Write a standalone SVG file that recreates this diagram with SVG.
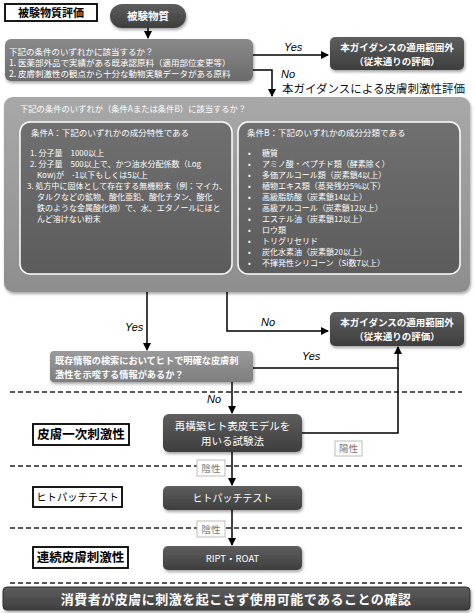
<svg xmlns="http://www.w3.org/2000/svg" width="475" height="613" viewBox="0 0 475 613">
<defs>
<style>
text{font-family:"Noto Sans CJK JP","Noto Sans",sans-serif;}
.w{fill:#fff;}
.wb{fill:#fff;font-weight:bold;}
.lbl{fill:#000;font-weight:bold;font-size:12.5px;}
.yn{font-family:"Liberation Sans",Arial,sans-serif;font-style:italic;font-size:11px;fill:#000;}
.ln{fill:none;stroke:#000;stroke-width:1.5;}
.dash{stroke:#222;stroke-width:1.3;stroke-dasharray:5,3;}
.tag{fill:#fff;stroke:#bbb;stroke-width:1;}
.tagt{fill:#777;font-size:9.5px;}
.lb{fill:#fff;stroke:#000;stroke-width:1.8;}
</style>
<linearGradient id="gDark" x1="0" y1="0" x2="0" y2="1"><stop offset="0" stop-color="#5e5e5e"/><stop offset="1" stop-color="#3e3e3e"/></linearGradient>
<linearGradient id="gMid" x1="0" y1="0" x2="0" y2="1"><stop offset="0" stop-color="#8a8a8a"/><stop offset="1" stop-color="#6a6a6a"/></linearGradient>
<linearGradient id="gBig" x1="0" y1="0" x2="0" y2="1"><stop offset="0" stop-color="#a8a8a8"/><stop offset="1" stop-color="#8e8e8e"/></linearGradient>
<linearGradient id="gIn" x1="0" y1="0" x2="0" y2="1"><stop offset="0" stop-color="#707070"/><stop offset="1" stop-color="#5c5c5c"/></linearGradient>
<linearGradient id="gLight" x1="0" y1="0" x2="0" y2="1"><stop offset="0" stop-color="#9a9a9a"/><stop offset="1" stop-color="#7e7e7e"/></linearGradient>
<filter id="sh" x="-5%" y="-10%" width="110%" height="130%"><feDropShadow dx="1" dy="2" stdDeviation="1.5" flood-color="#000" flood-opacity="0.35"/></filter>
<marker id="ah" markerWidth="8" markerHeight="8" refX="7" refY="4" orient="auto" markerUnits="userSpaceOnUse"><path d="M0,0 L8,4 L0,8 Z" fill="#000"/></marker>
</defs>

<g id="label-eval"><rect class="lb" x="5" y="4" width="92" height="17"/><text x="51" y="16.5" text-anchor="middle" style="font-size:11px;font-weight:bold">被験物質評価</text></g>

<g id="node-substance"><rect x="110" y="4" width="76" height="24" rx="12" fill="url(#gDark)" filter="url(#sh)"/><text class="wb" x="148" y="20" text-anchor="middle" style="font-size:10.5px">被験物質</text></g>

<g id="node-q1"><rect x="5" y="39" width="248" height="42" rx="6" fill="url(#gMid)" filter="url(#sh)"/>
<text class="w" x="9" y="55" style="font-size:8.5px">下記の条件のいずれかに該当するか？</text>
<text class="w" x="9" y="66" style="font-size:8.5px">1. 医薬部外品で実績がある既承認原料（適用部位変更等）</text>
<text class="w" x="9" y="77" style="font-size:8.5px">2. 皮膚刺激性の観点から十分な動物実験データがある原料</text></g>

<g id="node-out1"><rect x="330" y="37" width="134" height="33" rx="5" fill="url(#gDark)" filter="url(#sh)"/>
<text class="wb" x="397" y="50.5" text-anchor="middle" style="font-size:9.5px">本ガイダンスの適用範囲外</text>
<text class="wb" x="397" y="64.5" text-anchor="middle" style="font-size:9.5px">（従来通りの評価）</text></g>

<g id="title-guidance"><text x="282" y="93" style="font-size:11.5px;fill:#111">本ガイダンスによる皮膚刺激性評価</text></g>

<g id="node-q2"><rect x="4" y="97" width="466" height="195" rx="9" fill="url(#gBig)" filter="url(#sh)"/>
<text class="w" x="20" y="112" style="font-size:8.3px">下記の条件のいずれか（条件Aまたは条件B）に該当するか？</text></g>

<g id="node-condA"><rect x="20" y="122" width="212" height="152" rx="10" fill="url(#gIn)" stroke="#fff" stroke-width="1.5"/>
<text class="w" x="31" y="136" style="font-size:8.5px">条件A：下記のいずれかの成分特性である</text>
<g class="w" style="font-size:8px">
<text x="30" y="156">1. 分子量　1000以上</text>
<text x="30" y="167">2. 分子量　500以上で、かつ油水分配係数（Log</text>
<text x="37" y="178">Kow)が　-1以下もしくは5以上</text>
<text x="27" y="189">3. 処方中に固体として存在する無機粉末（例：マイカ、</text>
<text x="37" y="200">タルクなどの鉱物、酸化亜鉛、酸化チタン、酸化</text>
<text x="37" y="211">鉄のような金属酸化物）で、水、エタノールにほと</text>
<text x="37" y="222">んど溶けない粉末</text>
</g></g>

<g id="node-condB"><rect x="238" y="122" width="222" height="152" rx="10" fill="url(#gIn)" stroke="#fff" stroke-width="1.5"/>
<text class="w" x="247" y="136" style="font-size:8.5px">条件B：下記のいずれかの成分分類である</text>
<g class="w" style="font-size:8px">
<text x="248" y="156">•</text><text x="262" y="156">糖質</text>
<text x="248" y="167">•</text><text x="262" y="167">アミノ酸・ペプチド類（酵素除く）</text>
<text x="248" y="178">•</text><text x="262" y="178">多価アルコール類（炭素鎖4以上）</text>
<text x="248" y="189">•</text><text x="262" y="189">植物エキス類（蒸発残分5%以下）</text>
<text x="248" y="200">•</text><text x="262" y="200">高級脂肪酸（炭素鎖14以上）</text>
<text x="248" y="211">•</text><text x="262" y="211">高級アルコール（炭素鎖12以上）</text>
<text x="248" y="222">•</text><text x="262" y="222">エステル油（炭素鎖12以上）</text>
<text x="248" y="233">•</text><text x="262" y="233">ロウ類</text>
<text x="248" y="244">•</text><text x="262" y="244">トリグリセリド</text>
<text x="248" y="255">•</text><text x="262" y="255">炭化水素油（炭素鎖20以上）</text>
<text x="248" y="266">•</text><text x="262" y="266">不揮発性シリコーン（Si数7以上）</text>
</g></g>

<g id="node-out2"><rect x="330" y="312" width="134" height="34" rx="5" fill="url(#gDark)" filter="url(#sh)"/>
<text class="wb" x="397" y="325.5" text-anchor="middle" style="font-size:9.5px">本ガイダンスの適用範囲外</text>
<text class="wb" x="397" y="339.5" text-anchor="middle" style="font-size:9.5px">（従来通りの評価）</text></g>

<g id="node-q3"><rect x="50" y="351" width="203" height="31" rx="4" fill="url(#gLight)" filter="url(#sh)"/>
<text class="wb" x="55" y="364" style="font-size:9.2px">既存情報の検索においてヒトで明確な皮膚刺</text>
<text class="wb" x="55" y="377.5" style="font-size:9.2px">激性を示唆する情報があるか？</text></g>

<g id="node-rhe"><rect x="163" y="414" width="139" height="38" rx="6" fill="url(#gDark)" filter="url(#sh)"/>
<text class="w" x="232.5" y="430" text-anchor="middle" style="font-size:10.5px">再構築ヒト表皮モデルを</text>
<text class="w" x="232.5" y="444.5" text-anchor="middle" style="font-size:10.5px">用いる試験法</text></g>

<g id="node-patch"><rect x="163" y="486" width="139" height="24" rx="5" fill="url(#gDark)" filter="url(#sh)"/>
<text class="w" x="232.5" y="502" text-anchor="middle" style="font-size:10px">ヒトパッチテスト</text></g>

<g id="node-ript"><rect x="163" y="546" width="139" height="24" rx="5" fill="url(#gDark)" filter="url(#sh)"/>
<text class="w" x="232.5" y="562" text-anchor="middle" style="font-size:9.5px">RIPT・ROAT</text></g>

<g id="label-primary"><rect class="lb" x="33" y="424" width="96" height="21"/><text class="lbl" x="81" y="439" text-anchor="middle">皮膚一次刺激性</text></g>
<g id="label-patch"><rect class="lb" x="33" y="487" width="89" height="20"/><text class="lbl" x="77.5" y="501" text-anchor="middle" style="font-size:10.3px;font-weight:normal">ヒトパッチテスト</text></g>
<g id="label-cumulative"><rect class="lb" x="33" y="547" width="95" height="21"/><text class="lbl" x="80.5" y="562" text-anchor="middle">連続皮膚刺激性</text></g>

<g id="dividers">
<line class="dash" x1="10" y1="392" x2="462" y2="392"/>
<line class="dash" x1="10" y1="466" x2="462" y2="466"/>
<line class="dash" x1="10" y1="528" x2="462" y2="528"/>
<line class="dash" x1="10" y1="583" x2="462" y2="583"/>
</g>

<g id="connectors">
<line class="ln" x1="148" y1="28" x2="148" y2="38" marker-end="url(#ah)"/>
<line class="ln" x1="253" y1="55" x2="328" y2="55" marker-end="url(#ah)"/>
<polyline class="ln" points="253,70 272,70 272,96" marker-end="url(#ah)"/>
<line class="ln" x1="147" y1="292" x2="147" y2="350" marker-end="url(#ah)"/>
<polyline class="ln" points="227,292 227,331 328,331" marker-end="url(#ah)"/>
<polyline class="ln" points="253,368 398,368 398,347" marker-end="url(#ah)"/>
<line class="ln" x1="232" y1="382" x2="232" y2="413" marker-end="url(#ah)"/>
<polyline class="ln" points="302,433 398,433 398,368"/>
<line class="ln" x1="232" y1="452" x2="232" y2="485" marker-end="url(#ah)"/>
<line class="ln" x1="232" y1="510" x2="232" y2="545" marker-end="url(#ah)"/>
<text class="yn" x="284" y="51">Yes</text>
<text class="yn" x="281" y="78">No</text>
<text class="yn" x="125" y="331">Yes</text>
<text class="yn" x="261" y="326">No</text>
<text class="yn" x="302" y="360">Yes</text>
<text class="yn" x="207" y="403">No</text>
<g id="tag-pos"><rect class="tag" x="335" y="441" width="27" height="15"/><text class="tagt" x="348.5" y="452" text-anchor="middle">陽性</text></g>
<g id="tag-neg1"><rect class="tag" x="197" y="460" width="28" height="16"/><text class="tagt" x="211" y="471.5" text-anchor="middle">陰性</text></g>
<g id="tag-neg2"><rect class="tag" x="197" y="521" width="28" height="16"/><text class="tagt" x="211" y="532.5" text-anchor="middle">陰性</text></g>
</g>

<g id="node-final"><rect x="3" y="587" width="467" height="23" rx="4" fill="url(#gDark)" stroke="#333" stroke-width="1" filter="url(#sh)"/>
<text class="wb" x="236" y="603.5" text-anchor="middle" style="font-size:13px;letter-spacing:0.5px">消費者が皮膚に刺激を起こさず使用可能であることの確認</text></g>
</svg>
